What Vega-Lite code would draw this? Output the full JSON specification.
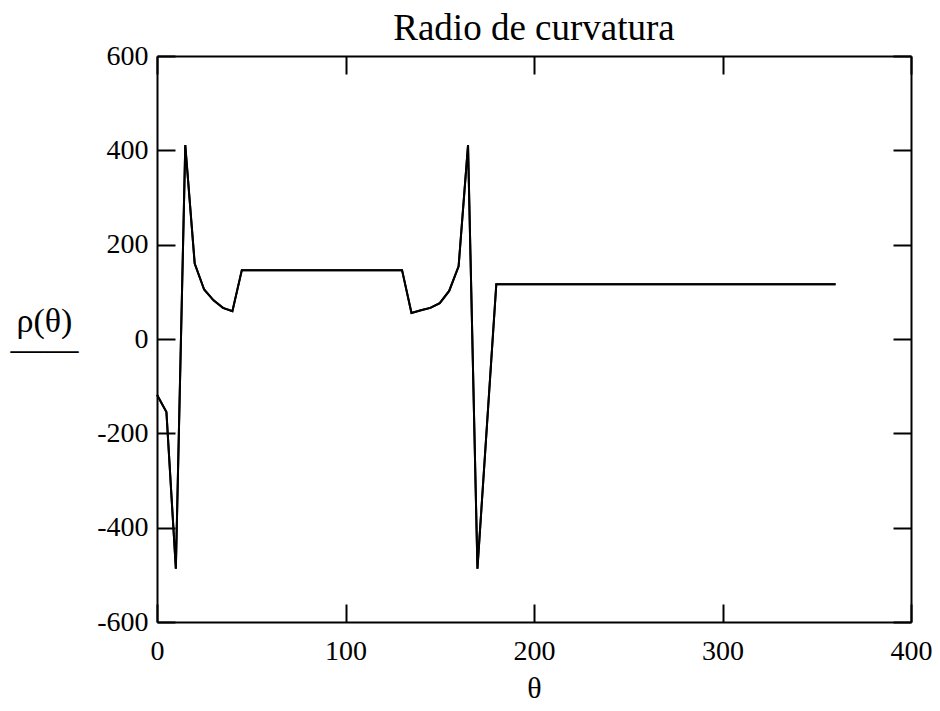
{
  "$schema": "https://vega.github.io/schema/vega-lite/v6.json",
  "autosize": "none",
  "padding": {"left": 157, "top": 56, "right": 29, "bottom": 89},
  "width": 754,
  "height": 566,
  "background": "white",
  "config": {
    "view": {"stroke": null},
    "font": "Liberation Serif",
    "axis": {
      "domainColor": "black",
      "domainWidth": 2,
      "tickColor": "black",
      "tickWidth": 2,
      "tickSize": -18,
      "grid": false,
      "minExtent": 0,
      "labelFont": "Liberation Serif",
      "labelFontSize": 28,
      "labelColor": "black",
      "titleFont": "Liberation Serif",
      "titleFontSize": 28,
      "titleFontWeight": "normal",
      "titleColor": "black"
    }
  },
  "title": {
    "text": "Radio de curvatura",
    "font": "Liberation Serif",
    "fontSize": 37,
    "fontWeight": "normal",
    "color": "black",
    "baseline": "alphabetic",
    "anchor": "middle",
    "offset": 4,
    "dy": 39
  },
  "data": {
    "values": [
      {"theta": 0, "rho": -118},
      {"theta": 5, "rho": -155},
      {"theta": 10, "rho": -487},
      {"theta": 15, "rho": 411},
      {"theta": 20, "rho": 160},
      {"theta": 25, "rho": 105},
      {"theta": 30, "rho": 82},
      {"theta": 35, "rho": 66},
      {"theta": 40, "rho": 59},
      {"theta": 45, "rho": 146},
      {"theta": 50, "rho": 146},
      {"theta": 55, "rho": 146},
      {"theta": 60, "rho": 146},
      {"theta": 65, "rho": 146},
      {"theta": 70, "rho": 146},
      {"theta": 75, "rho": 146},
      {"theta": 80, "rho": 146},
      {"theta": 85, "rho": 146},
      {"theta": 90, "rho": 146},
      {"theta": 95, "rho": 146},
      {"theta": 100, "rho": 146},
      {"theta": 105, "rho": 146},
      {"theta": 110, "rho": 146},
      {"theta": 115, "rho": 146},
      {"theta": 120, "rho": 146},
      {"theta": 125, "rho": 146},
      {"theta": 130, "rho": 146},
      {"theta": 135, "rho": 55},
      {"theta": 140, "rho": 61},
      {"theta": 145, "rho": 66},
      {"theta": 150, "rho": 76},
      {"theta": 155, "rho": 102},
      {"theta": 160, "rho": 154},
      {"theta": 165, "rho": 411},
      {"theta": 170, "rho": -487},
      {"theta": 180, "rho": 116},
      {"theta": 185, "rho": 116},
      {"theta": 190, "rho": 116},
      {"theta": 195, "rho": 116},
      {"theta": 200, "rho": 116},
      {"theta": 205, "rho": 116},
      {"theta": 210, "rho": 116},
      {"theta": 215, "rho": 116},
      {"theta": 220, "rho": 116},
      {"theta": 225, "rho": 116},
      {"theta": 230, "rho": 116},
      {"theta": 235, "rho": 116},
      {"theta": 240, "rho": 116},
      {"theta": 245, "rho": 116},
      {"theta": 250, "rho": 116},
      {"theta": 255, "rho": 116},
      {"theta": 260, "rho": 116},
      {"theta": 265, "rho": 116},
      {"theta": 270, "rho": 116},
      {"theta": 275, "rho": 116},
      {"theta": 280, "rho": 116},
      {"theta": 285, "rho": 116},
      {"theta": 290, "rho": 116},
      {"theta": 295, "rho": 116},
      {"theta": 300, "rho": 116},
      {"theta": 305, "rho": 116},
      {"theta": 310, "rho": 116},
      {"theta": 315, "rho": 116},
      {"theta": 320, "rho": 116},
      {"theta": 325, "rho": 116},
      {"theta": 330, "rho": 116},
      {"theta": 335, "rho": 116},
      {"theta": 340, "rho": 116},
      {"theta": 345, "rho": 116},
      {"theta": 350, "rho": 116},
      {"theta": 355, "rho": 116},
      {"theta": 360, "rho": 116}
    ]
  },
  "layer": [
    {
      "mark": {"type": "line", "color": "black", "strokeWidth": 2},
      "encoding": {
        "x": {
          "field": "theta", "type": "quantitative",
          "scale": {"domain": [0, 400], "nice": false, "zero": false},
          "axis": {
            "orient": "bottom", "values": [0, 100, 200, 300, 400],
            "title": "θ", "labelPadding": 33, "labelFlush": false,
            "titleFontSize": 30,
            "titleX": 377, "titleY": 66, "titleBaseline": "middle", "titleAlign": "center"
          }
        },
        "y": {
          "field": "rho", "type": "quantitative",
          "scale": {"domain": [-600, 600], "nice": false, "zero": false},
          "axis": {
            "orient": "left", "values": [-600, -400, -200, 0, 200, 400, 600],
            "labelExpr": "replace(datum.label, '−', '-')",
            "title": ["ρ(θ)", "——"], "titleAngle": 0, "titleAlign": "center",
            "titleBaseline": "middle", "titleX": -113, "titleY": 265,
            "titleFontSize": 34, "titleLineHeight": 28,
            "labelPadding": 27, "labelFlush": false
          }
        }
      }
    },
    {
      "mark": {"type": "line", "color": "black", "strokeWidth": 2},
      "encoding": {
        "x": {
          "field": "theta", "type": "quantitative",
          "scale": {"domain": [0, 400], "nice": false, "zero": false},
          "axis": {"orient": "top", "values": [0, 100, 200, 300, 400], "labels": false, "title": null, "minExtent": 0, "maxExtent": 0}
        },
        "y": {
          "field": "rho", "type": "quantitative",
          "scale": {"domain": [-600, 600], "nice": false, "zero": false},
          "axis": {"orient": "right", "values": [-600, -400, -200, 0, 200, 400, 600], "labels": false, "title": null, "minExtent": 0, "maxExtent": 0}
        }
      }
    }
  ],
  "resolve": {"axis": {"x": "independent", "y": "independent"}}
}
